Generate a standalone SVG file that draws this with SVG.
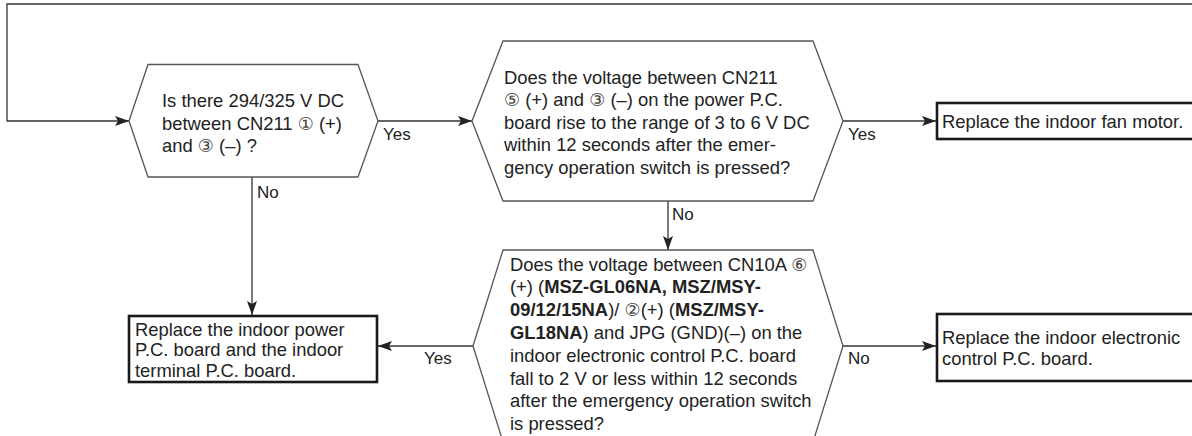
<svg xmlns="http://www.w3.org/2000/svg" width="1192" height="436" viewBox="0 0 1192 436">
<style>
text{font-family:"Liberation Sans",Arial,sans-serif;font-size:18.4px;fill:#222}
.lbl{font-size:17px}
.cd{font-family:"DejaVu Sans",sans-serif;font-size:18px;fill:#444}
.b{font-weight:bold}
.hex{fill:#fff;stroke:#555;stroke-width:1.3}
.box{fill:#fff;stroke:#1a1a1a;stroke-width:2.6}
.con{fill:none;stroke:#333;stroke-width:1.3}
</style>
<defs>
<marker id="ah" markerWidth="14" markerHeight="10" refX="14" refY="5" orient="auto" markerUnits="userSpaceOnUse">
<path d="M0,0 L14,5 L0,10 L3,5 Z" fill="#222"/>
</marker>
</defs>
<rect width="1192" height="436" fill="#fff"/>
<g id="connectors">
<path class="con" d="M1192,4 H7 V121 H129" marker-end="url(#ah)"/>
<path class="con" d="M378,121 H472" marker-end="url(#ah)"/>
<path class="con" d="M843,121 H936" marker-end="url(#ah)"/>
<path class="con" d="M668,201 V250" marker-end="url(#ah)"/>
<path class="con" d="M252,177 V315" marker-end="url(#ah)"/>
<path class="con" d="M473,346 H378" marker-end="url(#ah)"/>
<path class="con" d="M843,346 H936" marker-end="url(#ah)"/>
<text class="lbl" x="383" y="140">Yes</text>
<text class="lbl" x="848" y="140">Yes</text>
<text class="lbl" x="257" y="198">No</text>
<text class="lbl" x="672" y="220">No</text>
<text class="lbl" x="424" y="364">Yes</text>
<text class="lbl" x="848" y="364">No</text>
</g>
<g id="q1">
<polygon class="hex" points="129,121 148,64.5 358,64.5 378,121 358,177 148,177"/>
<text x="162" y="107">Is there 294/325 V DC</text>
<text x="162" y="129.5">between CN211 <tspan class="cd">①</tspan> (+)</text>
<text x="162" y="152">and <tspan class="cd">③</tspan> (–) ?</text>
</g>
<g id="q2">
<polygon class="hex" points="472,121 503,41 813,41 843,121 813,201 503,201"/>
<text x="504" y="84">Does the voltage between CN211</text>
<text x="504" y="106.4"><tspan class="cd">⑤</tspan> (+) and <tspan class="cd">③</tspan> (–) on the power P.C.</text>
<text x="504" y="128.8">board rise to the range of 3 to 6 V DC</text>
<text x="504" y="151.2">within 12 seconds after the emer-</text>
<text x="504" y="173.6">gency operation switch is pressed?</text>
</g>
<g id="q3">
<polygon class="hex" points="473,346 503,250 813,250 843,346 813,442 503,442"/>
<text x="510" y="270.5">Does the voltage between CN10A <tspan class="cd">⑥</tspan></text>
<text x="510" y="293.3">(+) (<tspan class="b">MSZ-GL06NA, MSZ/MSY-</tspan></text>
<text x="510" y="316.1"><tspan class="b">09/12/15NA</tspan>)/ <tspan class="cd">②</tspan>(+) (<tspan class="b">MSZ/MSY-</tspan></text>
<text x="510" y="338.9"><tspan class="b">GL18NA</tspan>) and JPG (GND)(–) on the</text>
<text x="510" y="361.7">indoor electronic control P.C. board</text>
<text x="510" y="384.5">fall to 2 V or less within 12 seconds</text>
<text x="510" y="407.3">after the emergency operation switch</text>
<text x="510" y="430.1">is pressed?</text>
</g>
<g id="r1">
<rect class="box" x="937" y="103" width="262" height="36"/>
<text x="942" y="127.5">Replace the indoor fan motor.</text>
</g>
<g id="r2">
<rect class="box" x="129" y="316" width="248" height="66"/>
<text x="135" y="335.5">Replace the indoor power</text>
<text x="135" y="356.3">P.C. board and the indoor</text>
<text x="135" y="377.1">terminal P.C. board.</text>
</g>
<g id="r3">
<rect class="box" x="937" y="314" width="262" height="67"/>
<text x="942" y="343.5">Replace the indoor electronic</text>
<text x="942" y="364.5">control P.C. board.</text>
</g>
</svg>
